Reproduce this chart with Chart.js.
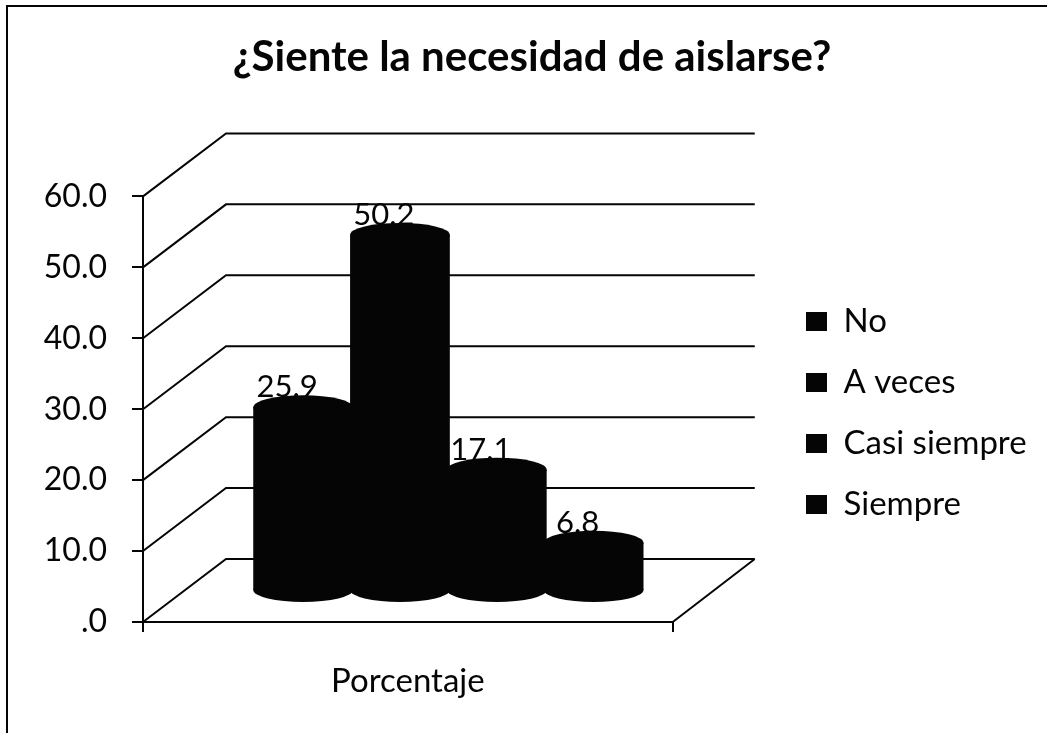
<!DOCTYPE html>
<html>
<head>
<meta charset="utf-8">
<title>¿Siente la necesidad de aislarse?</title>
<script src="https://cdn.jsdelivr.net/npm/chart.js@4/dist/chart.umd.min.js"></script>
<style>
  html, body { margin: 0; padding: 0; background: #fff; }
  canvas { display: block; }
</style>
</head>
<body>
<canvas id="chart" width="1047" height="733"></canvas>
<script>
const categories = ['Porcentaje'];
const seriesNames = ['No', 'A veces', 'Casi siempre', 'Siempre'];
const noValues = [25.9];
const aVecesValues = [50.2];
const casiSiempreValues = [17.1];
const siempreValues = [6.8];
const yTickLabels = ['.0', '10.0', '20.0', '30.0', '40.0', '50.0', '60.0'];

const INK = '#050505';
const FONT = 'Lato, Carlito, sans-serif';

// la profundidad del "3D" de Excel
const wallDx = 83, wallDy = -63;
const barDx = 40.5, barDy = -31, capRy = 12;
const floorRightDx = 82;

const seriesValues = [noValues, aVecesValues, casiSiempreValues, siempreValues];

const cylinder3d = {
  id: 'cylinder3d',
  beforeDraw(chart) {
    // marco recortado de la imagen escaneada (solo arriba e izquierda)
    const ctx = chart.ctx;
    ctx.save();
    ctx.strokeStyle = INK;
    ctx.lineWidth = 2;
    ctx.beginPath();
    ctx.moveTo(7, 733);
    ctx.lineTo(7, 6);
    ctx.lineTo(1047, 6);
    ctx.stroke();
    ctx.restore();
  },
  afterLayout(chart) {
    // leyenda y titulo no siguen el centrado de Chart.js en el original
    chart.legend.left = 778;
    chart.legend.right = 1047;
    chart.legend.top = 277;
    chart.titleBlock.left = 0;
    chart.titleBlock.right = 1064;
  },
  beforeDatasetsDraw(chart) {
    const ctx = chart.ctx;
    const { x, y } = chart.scales;
    ctx.save();
    ctx.strokeStyle = INK;
    ctx.lineWidth = 2;
    y.ticks.forEach((t) => {
      const py = y.getPixelForValue(t.value);
      ctx.beginPath();
      ctx.moveTo(x.left, py);
      ctx.lineTo(x.left + wallDx, py + wallDy);
      ctx.lineTo(x.right + floorRightDx, py + wallDy);
      ctx.stroke();
    });
    // borde derecho del piso
    const y0 = y.getPixelForValue(0);
    ctx.beginPath();
    ctx.moveTo(x.right, y0);
    ctx.lineTo(x.right + floorRightDx, y0 + wallDy);
    ctx.stroke();
    ctx.restore();

    ctx.save();
    ctx.translate(barDx, barDy);
  },
  afterDatasetsDraw(chart) {
    const ctx = chart.ctx;
    const bars = chart.data.datasets.map((d, i) => chart.getDatasetMeta(i).data[0]);
    bars.forEach((bar) => {
      const half = bar.width / 2;
      ctx.fillStyle = INK;
      ctx.beginPath();
      ctx.ellipse(bar.x, bar.y, half, capRy, 0, 0, Math.PI * 2);
      ctx.fill();
      ctx.beginPath();
      ctx.ellipse(bar.x, bar.base, half, capRy, 0, 0, Math.PI * 2);
      ctx.fill();
    });
    ctx.restore();

    ctx.save();
    ctx.fillStyle = INK;
    ctx.font = '31px ' + FONT;
    ctx.textAlign = 'center';
    ctx.textBaseline = 'alphabetic';
    bars.forEach((bar, i) => {
      ctx.fillText(seriesValues[i][0].toFixed(1), bar.x + barDx - 16, bar.y + barDy - 10);
    });
    ctx.restore();
  }
};

new Chart(document.getElementById('chart'), {
  type: 'bar',
  data: {
    labels: categories,
    datasets: seriesNames.map((name, i) => ({
      label: name,
      data: seriesValues[i],
      backgroundColor: INK,
      borderWidth: 0,
      categoryPercentage: 0.7312,
      barPercentage: 1.03
    }))
  },
  options: {
    responsive: false,
    animation: false,
    layout: { padding: { left: 0, right: 150, top: 0, bottom: 0 } },
    plugins: {
      tooltip: { enabled: false },
      title: {
        display: true,
        text: '¿Siente la necesidad de aislarse?',
        color: INK,
        font: { family: FONT, size: 42, weight: 'bold' },
        padding: { top: 32, bottom: 114 }
      },
      legend: {
        position: 'right',
        align: 'start',
        labels: {
          color: INK,
          font: { family: FONT, size: 33 },
          boxWidth: 21,
          boxHeight: 19,
          padding: 28
        }
      }
    },
    scales: {
      x: {
        afterFit(scale) { scale.height = 111; },
        grid: { drawOnChartArea: false, color: INK, lineWidth: 2, tickLength: 10 },
        border: { color: INK, width: 2 },
        ticks: { color: INK, padding: 30, font: { family: FONT, size: 33 } }
      },
      y: {
        min: 0,
        max: 60,
        afterFit(scale) { scale.width = 143; },
        grid: { drawOnChartArea: false, color: INK, lineWidth: 2, tickLength: 11 },
        border: { color: INK, width: 2 },
        ticks: {
          color: INK,
          stepSize: 10,
          padding: 25,
          font: { family: FONT, size: 32 },
          callback: (value, index) => yTickLabels[index]
        }
      }
    }
  },
  plugins: [cylinder3d]
});
</script>
</body>
</html>
